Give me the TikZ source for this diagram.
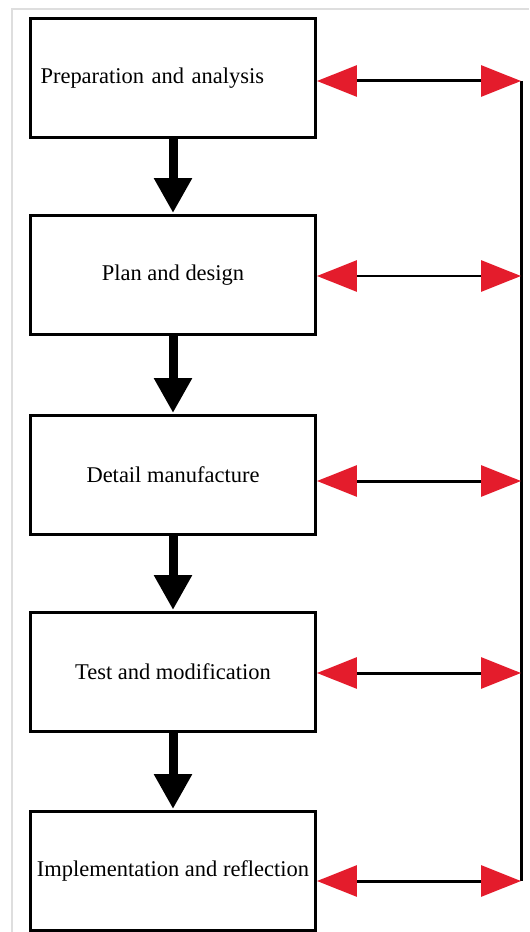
\documentclass[tikz,border=0pt]{standalone}
\usepackage{fontspec}
\setmainfont{Liberation Serif}
\usetikzlibrary{arrows.meta}
\definecolor{tipred}{RGB}{228,28,44}
\definecolor{framegray}{RGB}{222,222,222}
\tikzset{
  stage/.style={draw,line width=0.06cm,minimum width=5.7cm,minimum height=2.38cm,
    inner sep=0pt,font=\fontsize{12.8}{15}\selectfont},
  down/.style={line width=0.18cm,-{Triangle[length=0.7cm,width=0.72cm]},shorten >=0.02cm},
  link/.style={line width=0.06cm,{Triangle[length=0.8cm,width=0.62cm,color=tipred]}-{Triangle[length=0.8cm,width=0.62cm,color=tipred]}}
}
\begin{document}
\begin{tikzpicture}[x=0.02cm,y=-0.02cm]
  \useasboundingbox (0,0) rectangle (529,932);
  % frame of the screenshot
  \draw[framegray,line width=0.03cm] (12,932) -- (12,9) -- (529,9);
  % stages
  \node[stage,text width=5.3cm,align=left] (b1) at (173,78) {Preparation and analysis};
  \node[stage] (b2) at (173,275) {Plan and design};
  \node[stage] (b3) at (173,475) {Detail manufacture};
  \node[stage] (b4) at (173,672) {Test and modification};
  \node[stage] (b5) at (173,871) {Implementation and reflection};
  % down arrows
  \draw[down] (b1) -- (b2);
  \draw[down] (b2) -- (b3);
  \draw[down] (b3) -- (b4);
  \draw[down] (b4) -- (b5);
  % feedback line
  \coordinate (r1) at (521,81);
  \coordinate (r2) at (521,276);
  \coordinate (r3) at (521,481);
  \coordinate (r4) at (521,673);
  \coordinate (r5) at (521,881);
  \draw[line width=0.06cm] (r1) -- (r5);
  \draw[link] (r1 -| b1.east) -- (r1);
  \draw[link] (r2 -| b2.east) -- (r2);
  \draw[link] (r3 -| b3.east) -- (r3);
  \draw[link] (r4 -| b4.east) -- (r4);
  \draw[link] (r5 -| b5.east) -- (r5);
\end{tikzpicture}
\end{document}
